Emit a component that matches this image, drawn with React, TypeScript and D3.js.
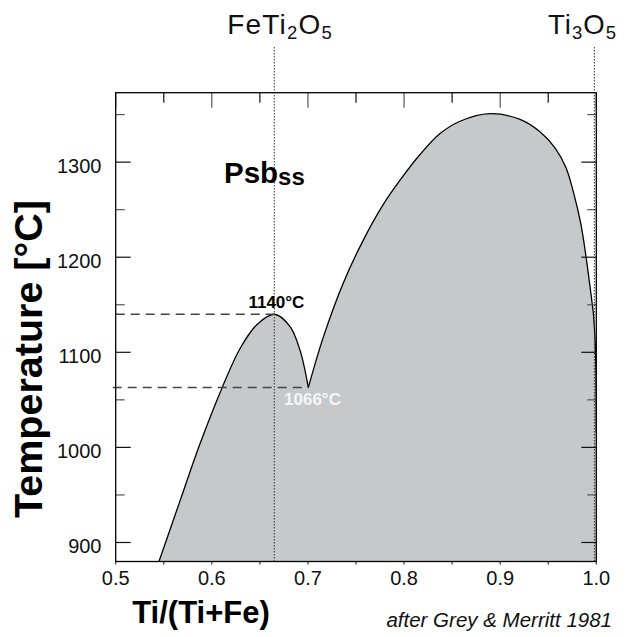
import React from 'react';
import * as d3 from 'd3';

// composition (Ti/(Ti+Fe)) and temperature (°C) of the solvus
const leftLobeX = [0.545, 0.567, 0.5878, 0.6104, 0.6294, 0.6468, 0.6651, 0.6814, 0.6918, 0.7004];
const leftLobeT = [880, 944, 1004, 1062, 1104, 1129, 1140, 1127, 1102, 1063];
const rightLobeX = [0.7004, 0.716, 0.7368, 0.7576, 0.7781, 0.7958, 0.8166, 0.8374, 0.8582, 0.8894, 0.9206, 0.9414, 0.957, 0.9685, 0.9768, 0.9841, 0.9898, 0.994, 0.9971, 0.9987, 0.9997, 1.0];
const rightLobeT = [1063, 1116, 1173, 1218, 1255, 1281, 1308, 1330, 1343, 1351, 1345, 1332, 1315, 1294, 1266, 1234, 1197, 1165, 1139, 1113, 1081, 1015];

const xTicks = [0.5, 0.6, 0.7, 0.8, 0.9, 1.0];
const xMinorTicks = [0.55, 0.65, 0.75, 0.85, 0.95];
const yTicks = [900, 1000, 1100, 1200, 1300];
const yMinorTicks = [950, 1050, 1150, 1250, 1350];

const peakT = 1140;
const peakX = 0.6651;
const eutecticT = 1063;
const eutecticX = 0.7004;
const feTi2O5X = 0.665;
const ti3O5X = 0.998;

const W = 631;
const H = 637;
const left = 115.7, right = 596.3, top = 92.7, bottom = 561.5;
const font = 'Liberation Sans, Arial, Helvetica, sans-serif';

export default function App() {
  const x = d3.scaleLinear().domain([0.5, 1.0]).range([left, right]);
  const y = d3.scaleLinear().domain([880, 1373]).range([bottom, top]);

  const line = d3
    .line<[number, number]>()
    .x((d) => x(d[0]))
    .y((d) => y(d[1]))
    .curve(d3.curveCatmullRom.alpha(0.5));

  const leftPts = leftLobeX.map((v, i) => [v, leftLobeT[i]] as [number, number]);
  const rightPts = rightLobeX.map((v, i) => [v, rightLobeT[i]] as [number, number]);
  const leftPath = line(leftPts) || '';
  const rightPath = line(rightPts) || '';
  const fillPath = leftPath + rightPath.replace(/^M/, 'L') + `L${x(1)},${y(880)}Z`;

  return (
    <svg width={W} height={H} style={{ position: 'absolute', left: 0, top: 0, background: '#fff' }} fontFamily={font}>
      <defs>
        <clipPath id="plot">
          <rect x={left} y={top} width={right - left} height={bottom - top} />
        </clipPath>
      </defs>

      {/* bottom ticks, short and outward */}
      {[...xTicks, ...xMinorTicks].map((t) => (
        <line key={'bt' + t} x1={x(t)} x2={x(t)} y1={bottom} y2={bottom + 3} stroke="#333" strokeWidth={1.2} />
      ))}

      <g clipPath="url(#plot)">
        <path d={fillPath} fill="#c7c8ca" stroke="none" />
        <path d={leftPath} fill="none" stroke="#000" strokeWidth={1.3} />
        <path d={rightPath} fill="none" stroke="#000" strokeWidth={1.3} />
      </g>

      {/* dashed lines at the two temperatures */}
      <line x1={left} x2={x(peakX)} y1={y(peakT)} y2={y(peakT)} stroke="#444" strokeWidth={1.3} strokeDasharray="9,6" />
      <line x1={left - 3} x2={x(eutecticX)} y1={y(eutecticT)} y2={y(eutecticT)} stroke="#444" strokeWidth={1.3} strokeDasharray="9,6" />

      {/* composition lines */}
      <line x1={x(feTi2O5X)} x2={x(feTi2O5X)} y1={47} y2={bottom} stroke="#333" strokeWidth={1} strokeDasharray="1.5,1.5" />
      <line x1={x(ti3O5X)} x2={x(ti3O5X)} y1={47} y2={bottom} stroke="#333" strokeWidth={1} strokeDasharray="1.5,1.5" />

      {/* inner ticks */}
      {yTicks.map((t) => (
        <g key={'y' + t}>
          <line x1={left} x2={left + 15} y1={y(t)} y2={y(t)} stroke="#111" strokeWidth={1.2} />
          <line x1={right} x2={right - 15} y1={y(t)} y2={y(t)} stroke="#111" strokeWidth={1.2} />
          <text x={101.5} y={y(t) + 10.5} fontSize={20} textAnchor="end" fill="#111">
            {t}
          </text>
        </g>
      ))}
      {yMinorTicks.map((t) => (
        <g key={'ym' + t}>
          <line x1={left} x2={left + 9} y1={y(t)} y2={y(t)} stroke="#555" strokeWidth={1.2} />
          <line x1={right} x2={right - 9} y1={y(t)} y2={y(t)} stroke="#555" strokeWidth={1.2} />
        </g>
      ))}
      {xTicks.map((t) => (
        <g key={'x' + t}>
          <line x1={x(t)} x2={x(t)} y1={top} y2={top + 15} stroke="#555" strokeWidth={1.2} />
          <text x={x(t)} y={584.5} fontSize={20} textAnchor="middle" fill="#111">
            {d3.format('.1f')(t)}
          </text>
        </g>
      ))}
      {xMinorTicks.map((t) => (
        <line key={'xm' + t} x1={x(t)} x2={x(t)} y1={top} y2={top + 10} stroke="#111" strokeWidth={1.2} />
      ))}

      {/* frame */}
      <rect x={left} y={top} width={right - left} height={bottom - top} fill="none" stroke="#000" strokeWidth={1.3} />

      {/* labels */}
      <text x={280} y={33.5} fontSize={28} textAnchor="middle" fill="#111" letterSpacing={1.2}>
        FeTi<tspan fontSize={18.5} dy={5}>2</tspan>
        <tspan dy={-5}>O</tspan>
        <tspan fontSize={18.5} dy={5}>5</tspan>
      </text>
      <text x={582.5} y={33.5} fontSize={27.5} textAnchor="middle" fill="#111" letterSpacing={1}>
        Ti<tspan fontSize={18.5} dy={5}>3</tspan>
        <tspan dy={-5}>O</tspan>
        <tspan fontSize={18.5} dy={5}>5</tspan>
      </text>

      <text x={224} y={183.3} fontSize={29.5} fontWeight="bold" fill="#000">
        Psb<tspan fontSize={24} dy={2}>ss</tspan>
      </text>

      <text x={x(peakX) + 2} y={308.3} fontSize={17} fontWeight="bold" textAnchor="middle" fill="#000">
        1140°C
      </text>
      <text x={312.5} y={405} fontSize={17} fontWeight="bold" textAnchor="middle" fill="#f6f6f6">
        1066°C
      </text>

      <text transform={`translate(42,359) rotate(-90)`} fontSize={39.5} fontWeight="bold" textAnchor="middle" fill="#000">
        Temperature [°C]
      </text>
      <text x={201} y={623} fontSize={31} fontWeight="bold" textAnchor="middle" fill="#000">
        Ti/(Ti+Fe)
      </text>
      <text x={612} y={627} fontSize={20.5} fontStyle="italic" textAnchor="end" fill="#111">
        after Grey &amp; Merritt 1981
      </text>
    </svg>
  );
}
